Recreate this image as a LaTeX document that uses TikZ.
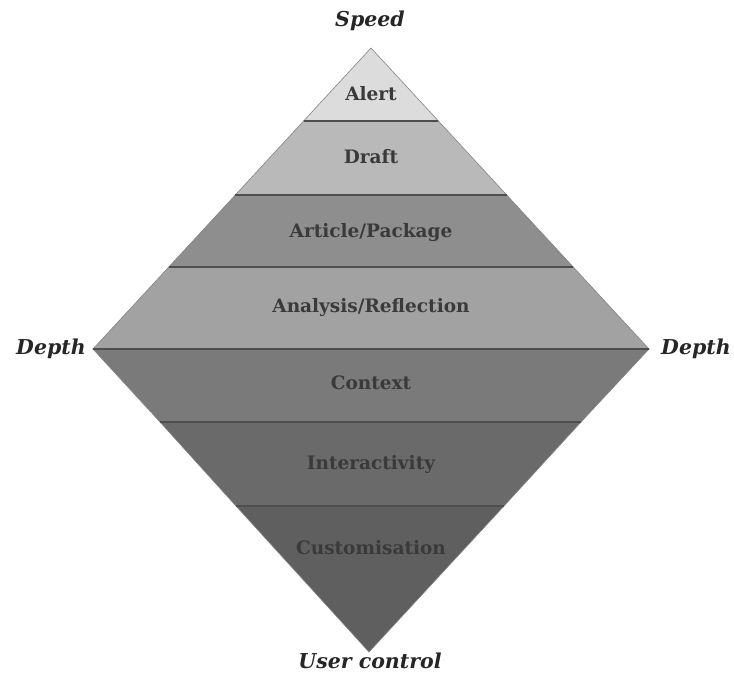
\documentclass[tikz,border=0pt]{standalone}
\usepackage{fontspec}
\setmainfont{DejaVu Serif}
\definecolor{cAlert}{HTML}{DCDCDC}
\definecolor{cDraft}{HTML}{B9B9B9}
\definecolor{cArticle}{HTML}{8E8E8E}
\definecolor{cAnalysis}{HTML}{A2A2A2}
\definecolor{cContext}{HTML}{7A7A7A}
\definecolor{cInter}{HTML}{6A6A6A}
\definecolor{cCustom}{HTML}{5F5F5F}
\definecolor{cText}{HTML}{3A3A3A}
\definecolor{cLine}{HTML}{4E4E4E}
\begin{document}
\begin{tikzpicture}[x=1pt,y=-1pt,
  band/.style={draw=cLine!70, line width=0.6pt, line join=miter},
  sep/.style={draw=cLine, line width=1.8pt},
  bandlabel/.style={font=\bfseries\fontsize{18.5}{22}\selectfont, text=cText},
  axislabel/.style={font=\bfseries\itshape\fontsize{20.5}{24}\selectfont, text=black!85}]
\useasboundingbox (0,0) rectangle (734,675);
% key points
\coordinate (apex) at (371,48);
\coordinate (L) at (93,349);
\coordinate (R) at (649,349);
\coordinate (bot) at (369,652);
% bands
\filldraw[band, fill=cAlert] (apex) -- (438.4,121) -- (303.6,121) -- cycle;
\filldraw[band, fill=cDraft] (303.6,121) -- (438.4,121) -- (506.7,195) -- (235.3,195) -- cycle;
\filldraw[band, fill=cArticle] (235.3,195) -- (506.7,195) -- (573.2,267) -- (168.8,267) -- cycle;
\filldraw[band, fill=cAnalysis] (168.8,267) -- (573.2,267) -- (R) -- (L) -- cycle;
\filldraw[band, fill=cContext] (L) -- (R) -- (581,422) -- (160,422) -- cycle;
\filldraw[band, fill=cInter] (160,422) -- (581,422) -- (504,506) -- (236,506) -- cycle;
\filldraw[band, fill=cCustom] (236,506) -- (504,506) -- (bot) -- cycle;
% separators
\coordinate (s1l) at (303.6,121); \coordinate (s1r) at (438.4,121);
\coordinate (s2l) at (235.3,195); \coordinate (s2r) at (506.7,195);
\coordinate (s3l) at (168.8,267); \coordinate (s3r) at (573.2,267);
\coordinate (s5l) at (160,422); \coordinate (s5r) at (581,422);
\coordinate (s6l) at (236,506); \coordinate (s6r) at (504,506);
\draw[sep] (s1l) -- (s1r);
\draw[sep] (s2l) -- (s2r);
\draw[sep] (s3l) -- (s3r);
\draw[sep] (L) -- (R);
\draw[sep] (s5l) -- (s5r);
\draw[sep] (s6l) -- (s6r);
% band labels
\node[bandlabel] (alert) at (371,94) {Alert};
\node[bandlabel] (draft) at (371,157) {Draft};
\node[bandlabel] (article) at (371,233) {Article/Package};
\node[bandlabel] (analysis) at (371,308) {Analysis/Reflection};
\node[bandlabel] (context) at (371,383) {Context};
\node[bandlabel] (inter) at (371,465) {Interactivity};
\node[bandlabel] (custom) at (371,548) {Customisation};
% axis labels
\node[axislabel] (speed) at (370,21) {Speed};
\node[axislabel] (depthL) at (51,349) {Depth};
\node[axislabel] (depthR) at (696,349) {Depth};
\node[axislabel] (user) at (370,661) {User control};
\end{tikzpicture}
\end{document}
